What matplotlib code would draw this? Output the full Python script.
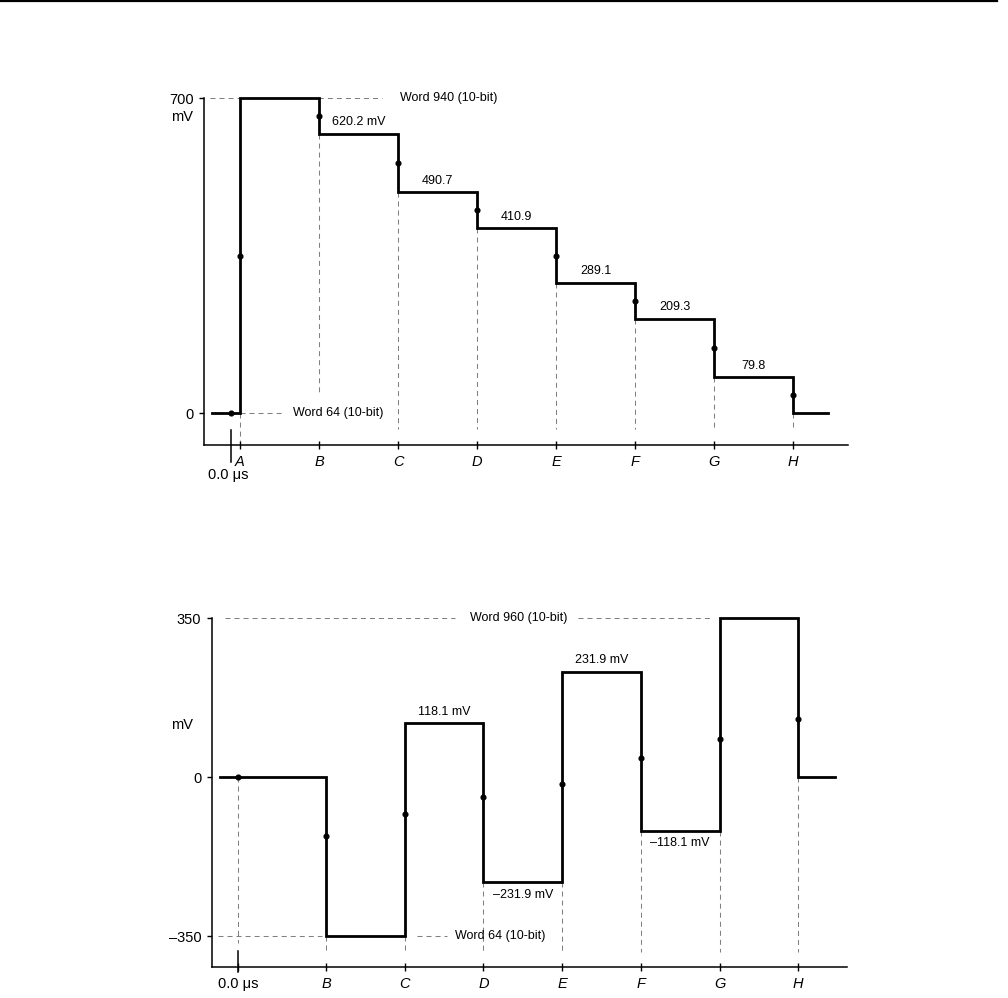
import matplotlib
matplotlib.use('Agg')
import matplotlib.pyplot as plt
from matplotlib.lines import Line2D

plt.rcParams['font.family'] = ['Liberation Sans', 'DejaVu Sans']
plt.rcParams['lines.scale_dashes'] = False

# ---------------- data: top chart (luma staircase) ----------------
top_edges = [0.646, 1, 2, 3, 4, 5, 6, 7, 8, 8.44]
top_levels = [0, 700, 620.2, 490.7, 410.9, 289.1, 209.3, 79.8, 0]
top_tick_pos = [1, 2, 3, 4, 5, 6, 7, 8]
top_tick_labels = ['A', 'B', 'C', 'D', 'E', 'F', 'G', 'H']
top_t0 = 0.886
top_dot_x = [0.886, 1, 2, 3, 4, 5, 6, 7, 8]
top_dot_y = [0, 350, 660.1, 555.5, 450.8, 350, 249.2, 144.5, 39.9]
top_step_labels = ['620.2 mV', '490.7', '410.9', '289.1', '209.3', '79.8']
top_step_label_levels = [620.2, 490.7, 410.9, 289.1, 209.3, 79.8]
top_step_label_x = [2.5, 3.5, 4.5, 5.5, 6.5, 7.5]
top_yticks = [0, 700]
top_yticklabels = ['0', '700']

# ---------------- data: bottom chart (chroma) ----------------
bot_edges = [0.653, 2, 3, 4, 5, 6, 7, 8, 8.47]
bot_levels = [0, -350, 118.1, -231.9, 231.9, -118.1, 350, 0]
bot_t0 = 0.882
bot_tick_pos = [0.882, 2, 3, 4, 5, 6, 7, 8]
bot_tick_labels = ['0.0 \u03bcs', 'B', 'C', 'D', 'E', 'F', 'G', 'H']
bot_dot_x = [0.882, 2, 3, 4, 5, 6, 7, 8]
bot_dot_y = [0, -130, -81, -44, -15, 41, 84, 128]
bot_step_labels = ['118.1 mV', '\u2013231.9 mV', '231.9 mV', '\u2013118.1 mV']
bot_step_label_levels = [118.1, -231.9, 231.9, -118.1]
bot_step_label_x = [3.5, 4.5, 5.5, 6.5]
bot_yticks = [-350, 0, 350]
bot_yticklabels = ['\u2013350', '0', '350']

W, H = 1008, 998
fig = plt.figure(figsize=(W / 100, H / 100), dpi=100)

# rule across the top of the page
fig.add_artist(Line2D([0, 997 / W], [1 - 1.2 / H, 1 - 1.2 / H], color='black', lw=1.6))

GUIDE = dict(color='#808080', lw=0.75, ls=(0, (3.6, 2.9)), zorder=1)
WAVE = dict(color='black', lw=2.0, zorder=3, clip_on=False, solid_joinstyle='miter')
ANN_FS = 9
TICK_FS = 10.5


def style_axes(ax):
    for s in ('top', 'right'):
        ax.spines[s].set_visible(False)
    for s in ('left', 'bottom'):
        ax.spines[s].set_linewidth(1.1)
    ax.tick_params(axis='y', direction='out', length=3.6, width=1.0, pad=4, labelsize=TICK_FS)
    ax.tick_params(axis='x', direction='inout', length=6, width=1.0, pad=4.2, labelsize=TICK_FS)


# ====================== top chart ======================
ax1 = fig.add_axes([204 / W, (H - 445) / H, 644 / W, 347 / H])
ax1.set_xlim(0.544, 8.696)
ax1.set_ylim(-71.1, 700)
style_axes(ax1)

ax1.plot(top_edges, top_levels + [top_levels[-1]], drawstyle='steps-post', **WAVE)
ax1.plot(top_dot_x, top_dot_y, 'o', color='black', ms=3.4, zorder=4, clip_on=False)

# horizontal reference guides
ax1.plot([0.62, 2.80], [700, 700], **GUIDE)
ax1.text(3.03, 700, 'Word 940 (10-bit)', ha='left', va='center', fontsize=ANN_FS)
ax1.plot([1.0, 1.57], [0, 0], **GUIDE)
ax1.text(1.67, 0, 'Word 64 (10-bit)', ha='left', va='center', fontsize=ANN_FS)

# vertical guides at sample points
for i, xp in enumerate(top_tick_pos):
    before = top_levels[i]
    after = top_levels[i + 1]
    top_y = min(before, after)
    bottom_y = 40 if xp == 2 else (-62 if xp == 1 else -35)
    ax1.plot([xp, xp], [top_y, bottom_y], **GUIDE)

# 0.0 us marker
ax1.plot([top_t0, top_t0], [-37.8, -108], color='black', lw=1.1, clip_on=False, zorder=3)
ax1.annotate('0.0 \u03bcs', xy=(top_t0, 0), xycoords=('data', 'axes fraction'),
             xytext=(-3, -30), textcoords='offset pixels', ha='center', va='center',
             fontsize=TICK_FS, annotation_clip=False)

for lab, lev, xp in zip(top_step_labels, top_step_label_levels, top_step_label_x):
    ax1.annotate(lab, xy=(xp, lev), xytext=(0, 11.5), textcoords='offset pixels',
                 ha='center', va='center', fontsize=ANN_FS)

ax1.set_xticks(top_tick_pos)
ax1.set_xticklabels(top_tick_labels, fontstyle='italic')
ax1.set_yticks(top_yticks)
ax1.set_yticklabels(top_yticklabels)
ax1.annotate('mV', xy=(0, 700), xycoords=('axes fraction', 'data'), xytext=(-11, -19),
             textcoords='offset pixels', ha='right', va='center', fontsize=TICK_FS,
             annotation_clip=False)

# ====================== bottom chart ======================
ax2 = fig.add_axes([212 / W, (H - 967) / H, 635 / W, 349 / H])
ax2.set_xlim(0.551, 8.62)
ax2.set_ylim(-418.2, 350)
style_axes(ax2)

ax2.plot(bot_edges, bot_levels + [bot_levels[-1]], drawstyle='steps-post', **WAVE)
ax2.plot(bot_dot_x, bot_dot_y, 'o', color='black', ms=3.4, zorder=4, clip_on=False)

ax2.plot([0.717, 3.64], [350, 350], **GUIDE)
ax2.text(3.83, 350, 'Word 960 (10-bit)', ha='left', va='center', fontsize=ANN_FS)
ax2.plot([5.20, 6.92], [350, 350], **GUIDE)
ax2.plot([0.63, 1.95], [-350, -350], **GUIDE)
ax2.plot([3.16, 3.54], [-350, -350], **GUIDE)
ax2.text(3.64, -350, 'Word 64 (10-bit)', ha='left', va='center', fontsize=ANN_FS)

# vertical guides
ax2.plot([bot_t0, bot_t0], [0, -365], **GUIDE)
ax2.plot([bot_t0, bot_t0], [-383, -430], color='black', lw=1.1, clip_on=False, zorder=3)
for i, xp in enumerate(bot_edges[1:-1]):
    top_y = min(bot_levels[i], bot_levels[i + 1])
    ax2.plot([xp, xp], [top_y, -385], **GUIDE)

for lab, lev, xp in zip(bot_step_labels, bot_step_label_levels, bot_step_label_x):
    off = 11.5 if lev > 0 else -12.5
    ax2.annotate(lab, xy=(xp, lev), xytext=(0, off), textcoords='offset pixels',
                 ha='center', va='center', fontsize=ANN_FS)

ax2.set_xticks(bot_tick_pos)
ax2.set_xticklabels(bot_tick_labels)
for k, t in enumerate(ax2.get_xticklabels()):
    if k > 0:
        t.set_fontstyle('italic')
ax2.set_yticks(bot_yticks)
ax2.set_yticklabels(bot_yticklabels)
ax2.annotate('mV', xy=(0, 114), xycoords=('axes fraction', 'data'), xytext=(-19, 0),
             textcoords='offset pixels', ha='right', va='center', fontsize=TICK_FS,
             annotation_clip=False)

fig.savefig('out.png', dpi=100)
